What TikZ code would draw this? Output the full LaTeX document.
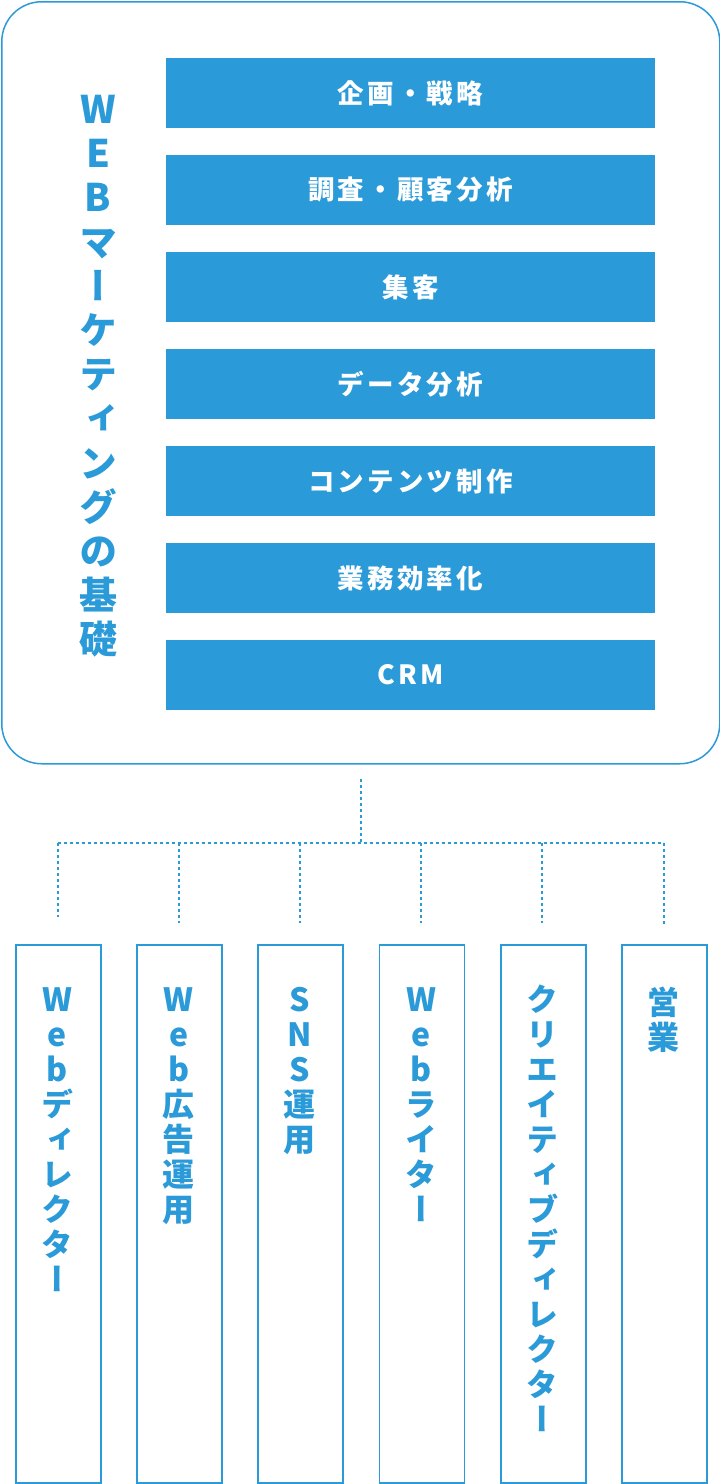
\documentclass[tikz,border=0pt]{standalone}
\usepackage{fontspec}
\setmainfont{Noto Sans CJK JP}
\newfontfamily\vjp[RawFeature=+vert]{Noto Sans CJK JP}
\definecolor{mblue}{HTML}{2B9AD8}
\newcommand\barfont{\fontsize{26.5}{30}\selectfont\bfseries\addfontfeature{LetterSpace=12}}
\newcommand\titlefont{\vjp\bfseries\fontsize{38}{44.2}\selectfont}
\newcommand\colfont{\vjp\bfseries\fontsize{32}{35}\selectfont}
\tikzset{
  frame/.style={draw=mblue, line width=1.5pt, rounded corners=40pt, anchor=north west, inner sep=0pt, minimum width=718pt, minimum height=762pt},
  barbox/.style={fill=mblue, minimum width=489pt, minimum height=70pt, inner sep=0pt, text=white, font=\barfont},
  vtitle/.style={anchor=north, inner sep=0pt, align=center, text=mblue, font=\titlefont},
  colbox/.style={draw=mblue, line width=1.8pt, anchor=north west, inner sep=0pt, minimum width=85pt, minimum height=538pt},
  coltext/.style={anchor=north, inner sep=0pt, align=center, text=mblue, font=\colfont},
  dotline/.style={draw=mblue, line width=2pt, dash pattern=on 3pt off 3pt}
}
\begin{document}
\begin{tikzpicture}[x=1pt,y=-1pt]
\useasboundingbox (0,0) rectangle (720,1484);
\node[frame] (outer) at (1,1) {};
\node[barbox] (b1) at (410.5,93) {企画・戦略};
\node[barbox] (b2) at (410.5,190) {調査・顧客分析};
\node[barbox] (b3) at (410.5,287) {集客};
\node[barbox] (b4) at (410.5,384) {データ分析};
\node[barbox] (b5) at (410.5,481) {コンテンツ制作};
\node[barbox] (b6) at (410.5,578) {業務効率化};
\node[barbox] (b7) at (410.5,675) {CRM};
\node[vtitle] (title) at (98,95) {W\\E\\B\\マ\\ー\\ケ\\テ\\ィ\\ン\\グ\\の\\基\\礎};
% columns
\node[colbox] (c1) at (15,944) {};
\node[colbox] (c2) at (136.2,944) {};
\node[colbox] (c3) at (257.4,944) {};
\node[colbox] (c4) at (378.6,944) {};
\node[colbox] (c5) at (499.8,944) {};
\node[colbox] (c6) at (621,944) {};
\node[coltext] (t1) at (57.5,987) {W\\e\\b\\デ\\ィ\\レ\\ク\\タ\\ー};
\node[coltext] (t2) at (178.7,987) {W\\e\\b\\広\\告\\運\\用};
\node[coltext] (t3) at (299.9,987) {S\\N\\S\\運\\用};
\node[coltext] (t4) at (421.1,987) {W\\e\\b\\ラ\\イ\\タ\\ー};
\node[coltext] (t5) at (542.3,985) {ク\\リ\\エ\\イ\\テ\\ィ\\ブ\\デ\\ィ\\レ\\ク\\タ\\ー};
\node[coltext] (t6) at (663.5,987) {営\\業};
% connectors
\coordinate (hub) at (360.5,779);
\coordinate (junc) at (360.5,843);
\coordinate (j1) at (57.5,843);
\coordinate (j2) at (178.7,843);
\coordinate (j3) at (299.9,843);
\coordinate (j4) at (421.1,843);
\coordinate (j5) at (542.3,843);
\coordinate (j6) at (663.5,843);
\coordinate (e1) at (57.5,917);
\coordinate (e2) at (178.7,923);
\coordinate (e3) at (299.9,923);
\coordinate (e4) at (421.1,923);
\coordinate (e5) at (542.3,923);
\coordinate (e6) at (663.5,924);
\draw[dotline] (hub) -- (junc);
\draw[dotline] (j1) -- (j6);
\foreach \i in {1,...,6} { \draw[dotline] (j\i) -- (e\i); }
\end{tikzpicture}
\end{document}
